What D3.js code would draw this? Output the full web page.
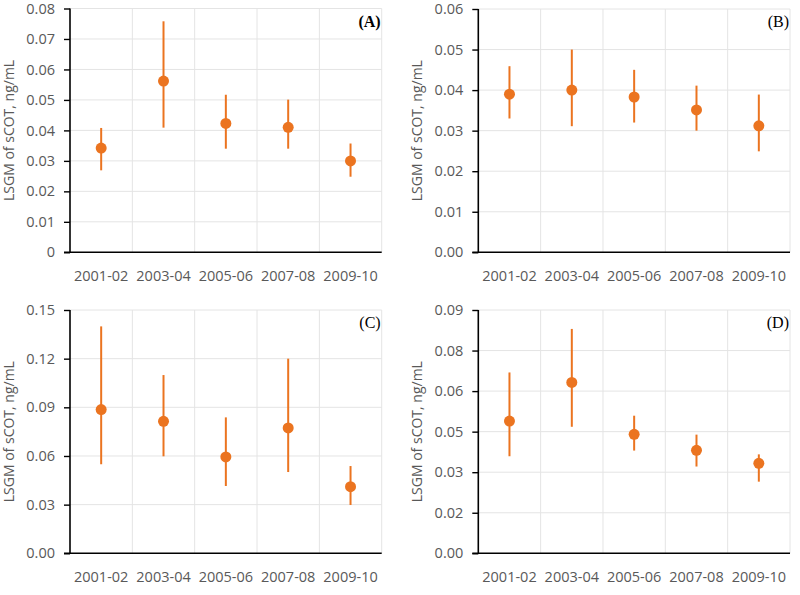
<!DOCTYPE html>
<html><head><meta charset="utf-8">
<script src="https://cdn.jsdelivr.net/npm/d3@7"></script>
<style>body{margin:0;background:#fff}svg{display:block}</style>
</head><body>
<svg id="c" width="800" height="595"></svg>
<script>
const categories = ["2001-02","2003-04","2005-06","2007-08","2009-10"];
const panelLetters = ["(A)","(B)","(C)","(D)"];
const yAxisTitle = "LSGM of sCOT, ng/mL";

const meanA = [0.0342,0.0562,0.0423,0.0410,0.0300];
const upperA = [0.0408,0.0758,0.0517,0.0501,0.0357];
const lowerA = [0.0269,0.0409,0.0340,0.0340,0.0248];

const meanB = [0.0390,0.0400,0.0383,0.0351,0.0312];
const upperB = [0.0459,0.0500,0.0450,0.0411,0.0389];
const lowerB = [0.0330,0.0311,0.0320,0.0300,0.0249];

const meanC = [0.0886,0.0814,0.0594,0.0773,0.0411];
const upperC = [0.1399,0.1099,0.0838,0.1200,0.0538];
const lowerC = [0.0549,0.0598,0.0415,0.0501,0.0298];

const meanD = [0.0489,0.0632,0.0440,0.0381,0.0333];
const upperD = [0.0669,0.0830,0.0509,0.0439,0.0366];
const lowerD = [0.0359,0.0468,0.0380,0.0321,0.0265];

const ticksA = [0,0.01,0.02,0.03,0.04,0.05,0.06,0.07,0.08];
const tickLabelsA = ["0","0.01","0.02","0.03","0.04","0.05","0.06","0.07","0.08"];
const ticksB = [0,0.01,0.02,0.03,0.04,0.05,0.06];
const tickLabelsB = ["0.00","0.01","0.02","0.03","0.04","0.05","0.06"];
const ticksC = [0,0.03,0.06,0.09,0.12,0.15];
const tickLabelsC = ["0.00","0.03","0.06","0.09","0.12","0.15"];
const ticksD = [0,0.015,0.03,0.045,0.06,0.075,0.09];
const tickLabelsD = ["0.00","0.02","0.03","0.05","0.06","0.08","0.09"];

const panels = [
  {letter: panelLetters[0], mean: meanA, up: upperA, lo: lowerA, ticks: ticksA, labels: tickLabelsA, box: [70, 381.7, 8.5, 252.3]},
  {letter: panelLetters[1], mean: meanB, up: upperB, lo: lowerB, ticks: ticksB, labels: tickLabelsB, box: [478.3, 790, 9, 252.3]},
  {letter: panelLetters[2], mean: meanC, up: upperC, lo: lowerC, ticks: ticksC, labels: tickLabelsC, box: [70, 381.7, 310, 553.3]},
  {letter: panelLetters[3], mean: meanD, up: upperD, lo: lowerD, ticks: ticksD, labels: tickLabelsD, box: [478.3, 790, 310, 553.3]}
];

const svg = d3.select("#c");
const orange = "#EB7420";
const grid = "#e4e4e4";
const textCol = "#595959";
const font = "'Open Sans', sans-serif";

panels.forEach(p => {
  const [x0, x1, yT, yB] = p.box;
  const ymax = p.ticks[p.ticks.length - 1];
  const x = d3.scaleBand().domain(categories).range([x0, x1]).padding(0);
  const y = d3.scaleLinear().domain([0, ymax]).range([yB, yT]);
  const g = svg.append("g");

  // horizontal gridlines
  g.selectAll("line.hg").data(p.ticks.filter(t => t > 0)).join("line")
    .attr("x1", x0).attr("x2", x1)
    .attr("y1", d => y(d)).attr("y2", d => y(d))
    .attr("stroke", grid).attr("stroke-width", 1);
  // vertical gridlines at band boundaries
  g.selectAll("line.vg").data(categories).join("line")
    .attr("x1", d => x(d) + x.bandwidth()).attr("x2", d => x(d) + x.bandwidth())
    .attr("y1", yT).attr("y2", yB)
    .attr("stroke", grid).attr("stroke-width", 1);

  // y axis
  const yAxis = d3.axisLeft(y).tickValues(p.ticks)
    .tickFormat((d, i) => p.labels[i]).tickSize(6).tickPadding(9);
  const ya = g.append("g").attr("transform", `translate(${x0},0)`).call(yAxis);
  ya.select(".domain").attr("stroke", "#000").attr("stroke-width", 1.6).attr("d", `M0,${yT}V${yB}`);
  ya.selectAll(".tick line").attr("stroke", "#000").attr("stroke-width", 1.4);
  ya.selectAll(".tick text").attr("font-family", font).attr("font-size", 14.5)
    .attr("fill", textCol);

  // x axis
  const xAxis = d3.axisBottom(x).tickSize(0).tickPadding(18);
  const xa = g.append("g").attr("transform", `translate(0,${yB})`).call(xAxis);
  xa.select(".domain").attr("stroke", "#000").attr("stroke-width", 1.6).attr("d", `M${x0 - 6},0H${x1}`);
  xa.selectAll(".tick text").attr("font-family", font).attr("font-size", 14.5)
    .attr("fill", textCol);

  // y axis title
  g.append("text")
    .attr("transform", `translate(${x0 - 56},${(yT + yB) / 2}) rotate(-90)`)
    .attr("text-anchor", "middle")
    .attr("font-family", font).attr("font-size", 14).attr("fill", textCol)
    .text(yAxisTitle);

  // error bars
  g.selectAll("line.err").data(categories).join("line")
    .attr("x1", d => x(d) + x.bandwidth() / 2).attr("x2", d => x(d) + x.bandwidth() / 2)
    .attr("y1", (d, i) => y(p.up[i])).attr("y2", (d, i) => y(p.lo[i]))
    .attr("stroke", orange).attr("stroke-width", 2);
  // points
  g.selectAll("circle").data(categories).join("circle")
    .attr("cx", d => x(d) + x.bandwidth() / 2)
    .attr("cy", (d, i) => y(p.mean[i]))
    .attr("r", 5.5).attr("fill", orange);

  // panel letter
  g.append("text")
    .attr("x", x1 - 1).attr("y", yT + 18)
    .attr("text-anchor", "end")
    .attr("font-family", "'Liberation Serif', 'Times New Roman', serif")
    .attr("font-size", 16).attr("fill", "#000")
    .attr("font-weight", p.letter === "(A)" ? "bold" : "normal")
    .text(p.letter);
});
</script>
</body></html>
